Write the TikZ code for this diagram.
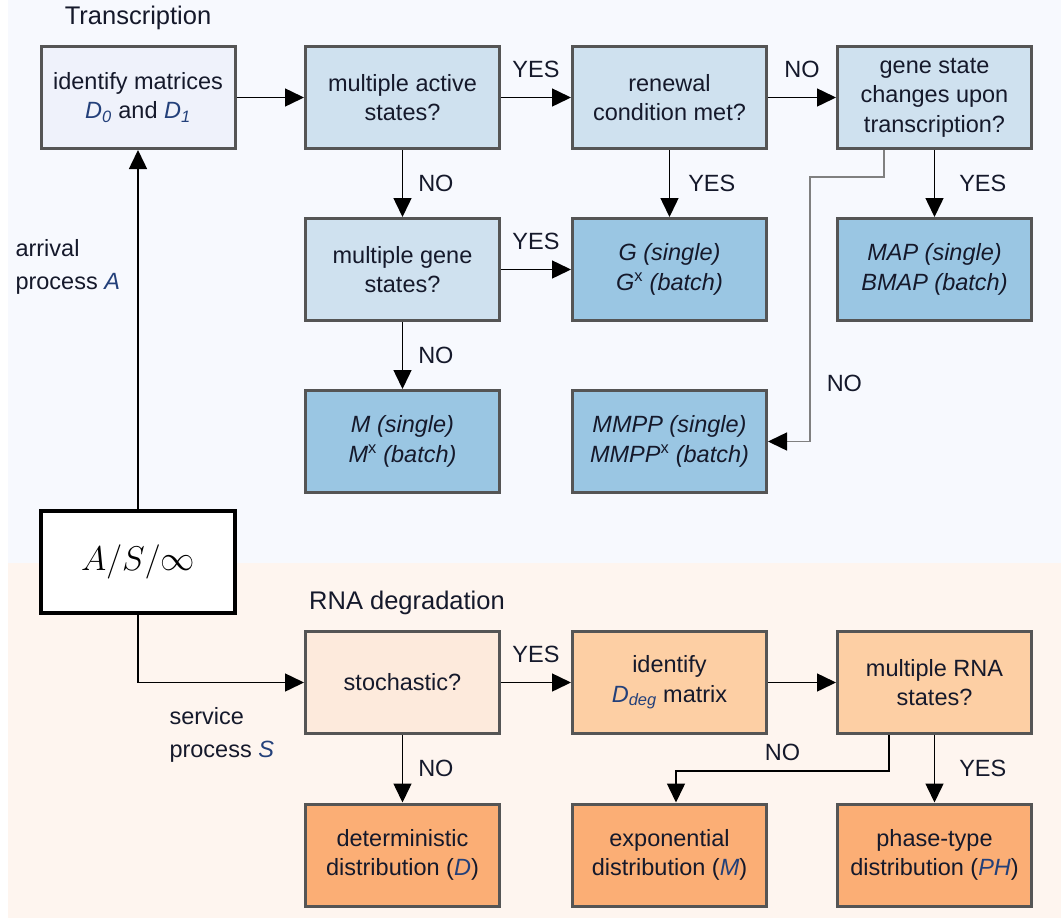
\documentclass[tikz,border=0pt]{standalone}
\usepackage{fontspec}
\setmainfont{Liberation Sans}
\usepackage{amsmath}
\usepackage{graphicx}
\usetikzlibrary{arrows.meta}
\definecolor{bgtop}{HTML}{F7F9FE}
\definecolor{bgbot}{HTML}{FEF5EF}
\definecolor{ink}{HTML}{15192B}
\definecolor{mblue}{HTML}{23407A}
\definecolor{edge}{HTML}{555555}
\definecolor{paleblue}{HTML}{EFF2FB}
\definecolor{lightblue}{HTML}{CFE1EF}
\definecolor{darkblue}{HTML}{9AC6E3}
\definecolor{paleorange}{HTML}{FDEADC}
\definecolor{lightorange}{HTML}{FDCFA4}
\definecolor{darkorange}{HTML}{FBAE75}
\newcommand{\mi}[1]{\textcolor{mblue}{\textit{#1}}}

\begin{document}
\begin{tikzpicture}[x=1pt, y=-1pt, >={Triangle[length=19pt,width=18pt]},
				   every node/.style={text=ink, font=\fontsize{23.5}{29.5}\selectfont},
				   box/.style={rectangle, draw=edge, line width=3pt, minimum width=194pt,
				               minimum height=102pt, align=center, inner sep=2pt},
				   title/.style={font=\fontsize{25.5}{30}\selectfont},
				   side/.style={align=left, anchor=west, font=\fontsize{23.5}{32.5}\selectfont},
				   link/.style={->, line width=1.5pt, draw=black},
				   greylink/.style={-{Triangle[length=19pt,width=18pt,color=black]}, line width=1.5pt, draw=gray},
				   lbl/.style={inner sep=3pt}]
\useasboundingbox (0,0) rectangle (1061,919);
\fill[bgtop] (8,0) rectangle (1061,563);
\fill[bgbot] (8,563) rectangle (1061,918);

\node[title] (trans) at (138,18) {Transcription};
\node[title] (rnadeg) at (407,603) {RNA degradation};
\node[side] (arrival) at (12,267) {arrival\\process \mi{A}};
\node[side] (service) at (166,735) {service\\process \mi{S}};

\node[box, fill=paleblue] (idm) at (138,97.5) {identify matrices\\\mi{D}\textsubscript{\mi{0}} and \mi{D}\textsubscript{\mi{1}}};
\node[box, fill=lightblue] (mas) at (402.5,97.5) {multiple active\\states?};
\node[box, fill=lightblue] (ren) at (669.5,97.5) {renewal\\condition met?};
\node[box, fill=lightblue] (gsc) at (934.5,97.5) {gene state\\changes upon\\transcription?};
\node[box, fill=lightblue] (mgs) at (402.5,269.5) {multiple gene\\states?};
\node[box, fill=darkblue] (g) at (669.5,269.5) {\textit{G (single)}\\\textit{G}\textsuperscript{x} \textit{(batch)}};
\node[box, fill=darkblue] (map) at (934.5,269.5) {\textit{MAP (single)}\\\textit{BMAP (batch)}};
\node[box, fill=darkblue] (m) at (402.5,441.5) {\textit{M (single)}\\\textit{M}\textsuperscript{x} \textit{(batch)}};
\node[box, fill=darkblue] (mmpp) at (669.5,441.5) {\textit{MMPP (single)}\\\textit{MMPP}\textsuperscript{x} \textit{(batch)}};

\node[box, fill=white, draw=black, line width=4.5pt, text=black,
      font=\fontsize{24.88}{30}\selectfont] (queue) at (138,562) {\scalebox{1.38}{$A/S/\infty$}};

\node[box, fill=paleorange] (sto) at (402.5,682.5) {stochastic?};
\node[box, fill=lightorange] (ddeg) at (669.5,682.5) {identify\\\mi{D}\textsubscript{\mi{deg}} matrix};
\node[box, fill=lightorange] (rna) at (934.5,682.5) {multiple RNA\\states?};
\node[box, fill=darkorange] (det) at (402.5,855) {deterministic\\distribution (\mi{D})};
\node[box, fill=darkorange] (expo) at (669.5,855) {exponential\\distribution (\mi{M})};
\node[box, fill=darkorange] (ph) at (934.5,855) {phase-type\\distribution (\mi{PH})};

\coordinate (k1) at (884,177);
\coordinate (k2) at (810,177);
\coordinate (k3) at (889,771);
\coordinate (k4) at (676,771);

\draw[link] (queue) -- (idm);
\draw[link] (queue) |- (sto);
\draw[link] (idm) -- (mas);
\draw[link] (mas) -- node[lbl, above=16pt] {YES} (ren);
\draw[link] (ren) -- node[lbl, above=16pt] {NO} (gsc);
\draw[link] (mas) -- node[lbl, right=12pt] {NO} (mgs);
\draw[link] (ren) -- node[lbl, right=15pt] {YES} (g);
\draw[link] (gsc) -- node[lbl, right=21pt] {YES} (map);
\draw[greylink] ([xshift=-50.5pt]gsc.south) -- (k1) -- (k2) |- node[lbl, pos=0.39, right=13pt] {NO} (mmpp);
\draw[link] (mgs) -- node[lbl, above=16pt] {YES} (g);
\draw[link] (mgs) -- node[lbl, right=12pt] {NO} (m);
\draw[link] (sto) -- node[lbl, above=16pt] {YES} (ddeg);
\draw[link] (ddeg) -- (rna);
\draw[link] (sto) -- node[lbl, right=12pt] {NO} (det);
\draw[link] ([xshift=-45.5pt]rna.south) -- (k3) -- node[lbl, above=7pt] {NO} (k4) -- ([xshift=6.5pt]expo.north);
\draw[link] (rna) -- node[lbl, right=21pt] {YES} (ph);
\end{tikzpicture}
\end{document}
